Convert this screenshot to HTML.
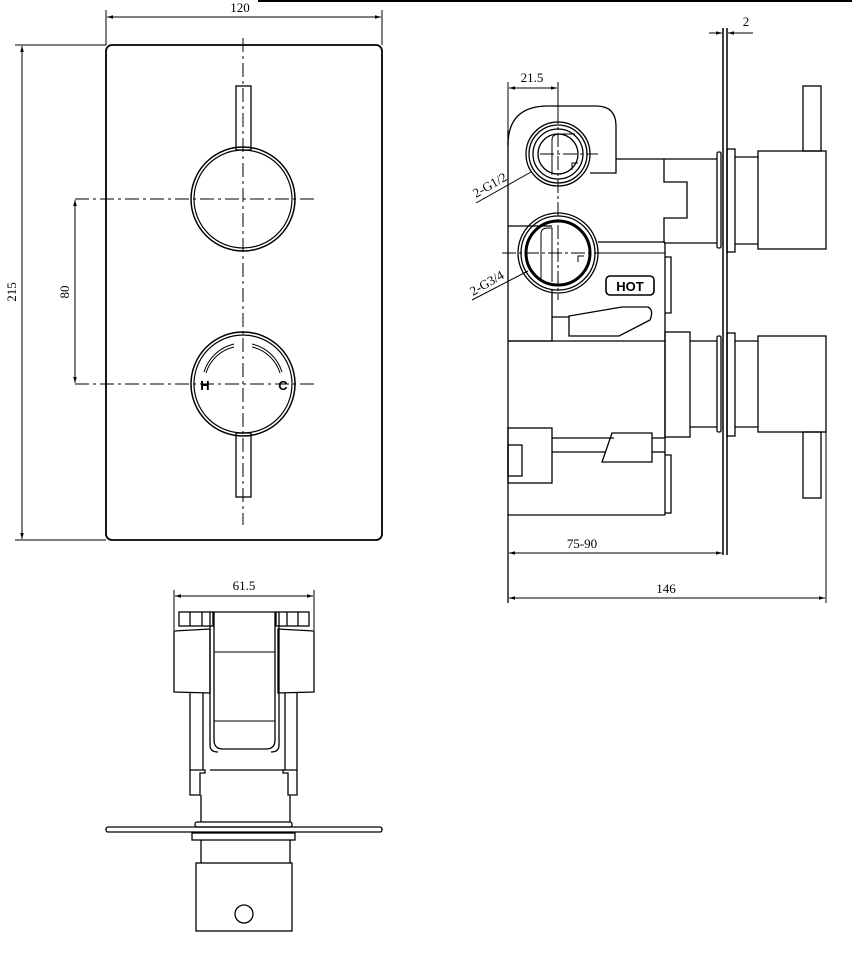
<!DOCTYPE html>
<html><head><meta charset="utf-8"><style>
html,body{margin:0;padding:0;background:#fff;}
svg{display:block;}
text{font-family:"Liberation Serif",serif;font-size:13px;fill:#000;}
</style></head><body>
<svg width="852" height="977" viewBox="0 0 852 977" xmlns="http://www.w3.org/2000/svg">
<defs>
<marker id="a" viewBox="0 0 10 10" refX="10" refY="5" markerWidth="8" markerHeight="6" orient="auto-start-reverse"><path d="M0,2 L10,5 L0,8 z" fill="#000"/></marker>
</defs>
<g fill="none" stroke="#000" stroke-width="1.3">
<!-- top border line -->
<line x1="258" y1="1" x2="852" y2="1" stroke-width="2"/>

<!-- FRONT VIEW -->
<rect x="106" y="45" width="276" height="495" rx="6" stroke-width="1.8"/>
<!-- 120 dim -->
<line x1="106" y1="10" x2="106" y2="45" stroke-width="1"/>
<line x1="382" y1="10" x2="382" y2="45" stroke-width="1"/>
<line x1="107" y1="17" x2="381" y2="17" stroke-width="1" marker-start="url(#a)" marker-end="url(#a)"/>
<!-- 215 dim -->
<line x1="15" y1="45" x2="106" y2="45" stroke-width="1"/>
<line x1="15" y1="540" x2="106" y2="540" stroke-width="1"/>
<line x1="22" y1="46" x2="22" y2="539" stroke-width="1" marker-start="url(#a)" marker-end="url(#a)"/>
<!-- 80 dim -->
<line x1="75" y1="200" x2="75" y2="383" stroke-width="1" marker-start="url(#a)" marker-end="url(#a)"/>
<!-- center lines -->
<line x1="243" y1="38" x2="243" y2="525" stroke-width="1" stroke-dasharray="14,4,3,4"/>
<line x1="75" y1="199" x2="315" y2="199" stroke-width="1" stroke-dasharray="14,4,3,4"/>
<line x1="75" y1="384" x2="315" y2="384" stroke-width="1" stroke-dasharray="14,4,3,4"/>
<!-- knobs -->
<circle cx="243" cy="199" r="52" stroke-width="1.5"/>
<circle cx="243" cy="199" r="49" stroke-width="1.2"/>
<rect x="236" y="86" width="15" height="64" stroke-width="1.3"/>
<circle cx="243" cy="384" r="52" stroke-width="1.5"/>
<circle cx="243" cy="384" r="49" stroke-width="1.2"/>
<rect x="236" y="433" width="15" height="64" stroke-width="1.3"/>
<path d="M234,344 A41,41 0 0 0 204,372" stroke-width="1"/>
<path d="M234,347 A38,38 0 0 0 206,373" stroke-width="1"/>
<path d="M252,344 A41,41 0 0 1 282,372" stroke-width="1"/>
<path d="M252,347 A38,38 0 0 1 280,373" stroke-width="1"/>
</g>
<text x="240" y="12" text-anchor="middle" font-size="14">120</text>
<text transform="translate(16,292) rotate(-90)" text-anchor="middle" font-size="14">215</text>
<text transform="translate(69,292) rotate(-90)" text-anchor="middle" font-size="14">80</text>
<text x="205" y="390" text-anchor="middle" font-family="Liberation Sans,sans-serif" font-weight="bold" font-size="14" style="font-family:'Liberation Sans',sans-serif">H</text>
<text x="283" y="390" text-anchor="middle" font-weight="bold" font-size="14" style="font-family:'Liberation Sans',sans-serif">C</text>

<!-- SIDE VIEW -->
<g fill="none" stroke="#000" stroke-width="1.3">
<!-- plate -->
<line x1="723" y1="28" x2="723" y2="555" stroke-width="1.5"/>
<line x1="727" y1="28" x2="727" y2="555" stroke-width="1.5"/>
<!-- 2 dim -->
<line x1="709" y1="33" x2="722" y2="33" stroke-width="1" marker-end="url(#a)"/>
<line x1="753" y1="33" x2="728" y2="33" stroke-width="1" marker-end="url(#a)"/>
<!-- 21.5 dim -->
<line x1="508" y1="82" x2="508" y2="130" stroke-width="1"/>
<line x1="558" y1="82" x2="558" y2="110" stroke-width="1"/>
<line x1="509" y1="88" x2="557" y2="88" stroke-width="1" marker-start="url(#a)" marker-end="url(#a)"/>
<!-- body left edge -->
<line x1="508" y1="130" x2="508" y2="603" stroke-width="1.3"/>
<!-- top housing -->
<path d="M508,145 Q508,106 548,106 L596,106 Q616,106 616,126 L616,173 L590,173"/>
<line x1="616" y1="159" x2="664" y2="159"/>
<path d="M664,159 L664,182 L687,182 L687,218 L664,218 L664,243"/>
<circle cx="558" cy="154" r="32"/><circle cx="558" cy="154" r="29"/><circle cx="558" cy="154" r="25"/><circle cx="558" cy="154" r="20"/>
<path d="M552,175 L552,140 Q552,134 560,134 L575,134" stroke-width="1"/>
<path d="M572,170 L572,163 L578,163" stroke-width="1"/>
<line x1="540" y1="154" x2="598" y2="154" stroke-width="1" stroke-dasharray="14,3,3,3"/>
<line x1="558" y1="110" x2="558" y2="300" stroke-width="1" stroke-dasharray="14,3,3,3"/>
<!-- upper stem/knob -->
<line x1="664" y1="159" x2="717" y2="159"/><line x1="664" y1="243" x2="717" y2="243"/>
<rect x="717" y="152" width="4" height="96" rx="1.5"/>
<rect x="727" y="149" width="8" height="103"/>
<line x1="735" y1="157" x2="758" y2="157"/><line x1="735" y1="244" x2="758" y2="244"/>
<rect x="758" y="151" width="68" height="98"/>
<rect x="803" y="86" width="18" height="65"/>
<!-- lower inlet -->
<circle cx="558" cy="253" r="40"/><circle cx="558" cy="253" r="37"/>
<circle cx="558" cy="253" r="32" stroke-width="3"/>
<path d="M541,282 L541,234 Q541,228 548,228 L552,228 L552,282" stroke-width="1"/>
<path d="M578,262 L578,256 L584,256" stroke-width="1"/>
<line x1="508" y1="226" x2="552" y2="226"/>
<line x1="598" y1="242" x2="665" y2="242"/>
<line x1="598" y1="253" x2="665" y2="253" stroke-width="1"/>
<line x1="502" y1="253" x2="608" y2="253" stroke-width="1" stroke-dasharray="14,3,3,3"/>
<!-- middle body -->
<line x1="665" y1="243" x2="665" y2="515"/>
<path d="M665,257 L671,257 L671,313 L665,313"/>
<path d="M665,455 L671,455 L671,513 L665,513"/>
<rect x="606" y="276" width="48" height="19" rx="4" stroke-width="1.6"/>
<!-- upper handle -->
<path d="M552,290 L552,341 L508,341"/>
<line x1="508" y1="341" x2="665" y2="341"/>
<line x1="552" y1="317" x2="569" y2="317"/>
<path d="M569,316 L569,336 L619,336 L650,320 Q654,310 648,307 L622,307 Z"/>
<!-- lower stem/knob -->
<rect x="665" y="332" width="25" height="105"/>
<line x1="690" y1="341" x2="717" y2="341"/><line x1="690" y1="427" x2="717" y2="427"/>
<rect x="717" y="336" width="4" height="96" rx="1.5"/>
<rect x="727" y="333" width="8" height="103"/>
<line x1="735" y1="341" x2="758" y2="341"/><line x1="735" y1="427" x2="758" y2="427"/>
<rect x="758" y="336" width="68" height="96"/>
<rect x="803" y="432" width="18" height="66"/>
<!-- lower handle -->
<rect x="508" y="428" width="44" height="55"/>
<rect x="508" y="445" width="14" height="31"/>
<line x1="552" y1="438" x2="614" y2="438"/><line x1="552" y1="452" x2="606" y2="452"/>
<path d="M612,433 L652,433 L652,462 L602,462 Z"/>
<line x1="652" y1="438" x2="665" y2="438"/><line x1="652" y1="452" x2="665" y2="452"/>
<line x1="508" y1="515" x2="665" y2="515"/>
<!-- bottom dims -->
<line x1="826" y1="432" x2="826" y2="603" stroke-width="1"/>
<line x1="509" y1="553" x2="722" y2="553" stroke-width="1" marker-start="url(#a)" marker-end="url(#a)"/>
<line x1="509" y1="598" x2="825" y2="598" stroke-width="1" marker-start="url(#a)" marker-end="url(#a)"/>
<!-- leaders -->
<line x1="476" y1="203" x2="531" y2="172" stroke-width="1"/>
<line x1="472" y1="300" x2="528" y2="271" stroke-width="1"/>
</g>
<text x="532" y="82" text-anchor="middle" font-size="14">21.5</text>
<text x="746" y="26" text-anchor="middle" font-size="14">2</text>
<text x="582" y="548" text-anchor="middle" font-size="14">75-90</text>
<text x="666" y="593" text-anchor="middle" font-size="14">146</text>
<text transform="translate(476,198) rotate(-30)" font-size="13">2-G1/2</text>
<text transform="translate(473,296) rotate(-30)" font-size="13">2-G3/4</text>
<text x="630" y="291" text-anchor="middle" font-weight="bold" font-size="14" style="font-family:'Liberation Sans',sans-serif">HOT</text>

<!-- BOTTOM VIEW -->
<g fill="none" stroke="#000" stroke-width="1.3">
<line x1="174" y1="590" x2="174" y2="630" stroke-width="1"/>
<line x1="314" y1="590" x2="314" y2="630" stroke-width="1"/>
<line x1="175" y1="596" x2="313" y2="596" stroke-width="1" marker-start="url(#a)" marker-end="url(#a)"/>
<rect x="179" y="612" width="34" height="14"/><line x1="190" y1="612" x2="190" y2="626"/><line x1="202" y1="612" x2="202" y2="626"/>
<rect x="276" y="612" width="33" height="14"/><line x1="287" y1="612" x2="287" y2="626"/><line x1="298" y1="612" x2="298" y2="626"/>
<path d="M174,631 L210,629 L210,693 L174,692 Z"/>
<path d="M314,631 L278,629 L278,693 L314,692 Z"/>
<path d="M214,612 L214,740 Q214,749 223,749 L266,749 Q275,749 275,740 L275,612 Z"/>
<path d="M210,612 L210,745 Q210,752 218,752"/>
<path d="M279,612 L279,745 Q279,752 271,752"/>
<line x1="214" y1="652" x2="275" y2="652" stroke-width="1"/>
<line x1="214" y1="721" x2="275" y2="721" stroke-width="1"/>
<path d="M190,693 L190,795 L200,795 L200,773 L205,773 L205,770 L190,770"/>
<line x1="203" y1="693" x2="203" y2="770"/>
<path d="M297,693 L297,795 L288,795 L288,773 L283,773 L283,770 L297,770"/>
<line x1="285" y1="693" x2="285" y2="770"/>
<line x1="210" y1="770" x2="285" y2="770"/>
<line x1="201" y1="795" x2="201" y2="822"/><line x1="290" y1="795" x2="290" y2="822"/>
<rect x="195" y="822" width="97" height="5" rx="2"/>
<rect x="106" y="827" width="276" height="5" rx="2"/>
<rect x="192" y="833" width="103" height="7"/>
<line x1="201" y1="840" x2="201" y2="863"/><line x1="290" y1="840" x2="290" y2="863"/>
<rect x="196" y="863" width="96" height="68"/>
<circle cx="244" cy="914" r="9"/>
</g>
<text x="244" y="590" text-anchor="middle" font-size="14">61.5</text>
</svg>
</body></html>
